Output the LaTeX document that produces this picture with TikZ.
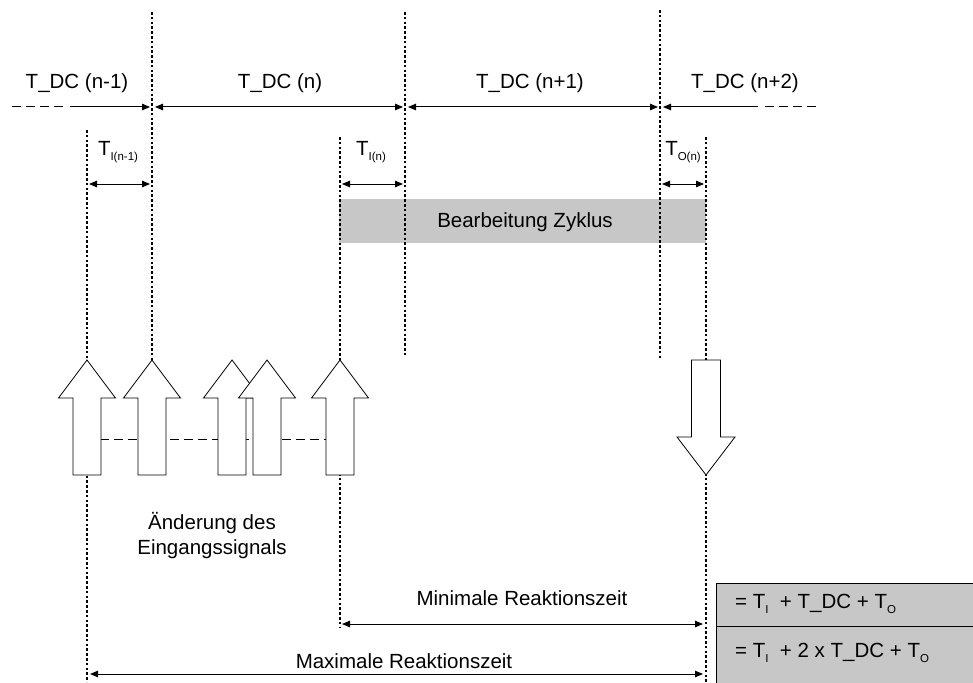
\documentclass[tikz,border=0pt]{standalone}
\usepackage{fontspec}
\setmainfont{Liberation Sans}
\usetikzlibrary{arrows.meta,positioning}
\newcommand{\lowsub}[1]{\raisebox{-5pt}{\fontsize{11.5}{11.5}\selectfont #1}}
\tikzset{
  txt/.style={font=\fontsize{20.5}{25}\selectfont,inner sep=0pt},
  gridline/.style={line width=1.6pt,dash pattern=on 2.6pt off 2.2pt},
  dimboth/.style={line width=1pt,{Triangle[length=8pt,width=6.5pt]}-{Triangle[length=8pt,width=6.5pt]}},
  dimright/.style={line width=1pt,-{Triangle[length=8pt,width=6.5pt]}},
  dimleft/.style={line width=1pt,{Triangle[length=8pt,width=6.5pt]}-},
  fadeout/.style={line width=1pt,dash pattern=on 9pt off 5pt},
  upblock/.pic={\draw[fill=white,line width=.8pt] (0,0) -- (28.5,38) -- (14,38) -- (14,115) -- (-14,115) -- (-14,38) -- (-28.5,38) -- cycle;},
  downblock/.pic={\draw[fill=white,line width=.8pt] (-14.5,0) -- (14.5,0) -- (14.5,77) -- (29,77) -- (0,115) -- (-29,77) -- (-14.5,77) -- cycle;}
}

\begin{document}
\begin{tikzpicture}[x=1pt,y=-1pt]
  \useasboundingbox (0,0) rectangle (973,682);
  \clip (0,0) rectangle (973,682);
  % processing bar
  \fill[black!22] (339,199) rectangle (706,243);
  \node[txt] (bearb) at (525,222) {Bearbeitung Zyklus};
  % cycle boundaries and input/output instants
  \coordinate (b1) at (152,12);   \coordinate (b1e) at (152,360);
  \coordinate (b2) at (405,12);   \coordinate (b2e) at (405,357);
  \coordinate (b3) at (660,10);   \coordinate (b3e) at (660,358);
  \coordinate (in1) at (87,130);  \coordinate (in1e) at (87,682);
  \coordinate (in2) at (340,137); \coordinate (in2e) at (340,628);
  \coordinate (out) at (706,137); \coordinate (oute) at (706,682);
  \foreach \a/\b in {b1/b1e,b2/b2e,b3/b3e,in1/in1e,in2/in2e,out/oute}
    \draw[gridline] (\a) -- (\b);
  % cycle lengths
  \coordinate (dcrow) at (0,107);
  \node[txt] (dc0) at (77,83) {T\_DC (n-1)};
  \node[txt] (dc1) at (280,83) {T\_DC (n)};
  \node[txt] (dc2) at (530,83) {T\_DC (n+1)};
  \node[txt] (dc3) at (745,83) {T\_DC (n+2)};
  \coordinate (dcstart) at (12,107);
  \coordinate (dcend) at (817,107);
  \draw[fadeout] (dcstart) -- ++(52,0);
  \draw[dimright] ([xshift=58pt]dcstart) -- ([xshift=-2pt]b1 |- dcrow);
  \draw[dimboth] ([xshift=3pt]b1 |- dcrow) -- ([xshift=-2pt]b2 |- dcrow);
  \draw[dimboth] ([xshift=3pt]b2 |- dcrow) -- ([xshift=-2pt]b3 |- dcrow);
  \draw[dimleft] ([xshift=3pt]b3 |- dcrow) -- ([xshift=-59pt]dcend);
  \draw[fadeout] ([xshift=-52pt]dcend) -- (dcend);
  % input and output times
  \coordinate (trow) at (0,184);
  \node[txt] (ti0) at (118,152) {T\lowsub{I(n-1)}};
  \node[txt] (ti1) at (371,152) {T\lowsub{I(n)}};
  \node[txt] (to1) at (683,152) {T\lowsub{O(n)}};
  \draw[dimboth] ([xshift=2pt]in1 |- trow) -- ([xshift=-2pt]b1 |- trow);
  \draw[dimboth] ([xshift=2pt]in2 |- trow) -- ([xshift=-2pt]b2 |- trow);
  \draw[dimboth] ([xshift=2pt]b3 |- trow) -- ([xshift=-2pt]out |- trow);
  % input signal changes
  \draw[fadeout] (100,439) -- (326,439);
  \foreach \x in {87,152,232,267,340}
    \pic at (\x,360) {upblock};
  \pic at (706,360) {downblock};
  \node[txt,align=center] (aend) at (212,536) {Änderung des\\Eingangssignals};
  % reaction times
  \node[txt] (minlbl) at (522,598) {Minimale Reaktionszeit};
  \node[txt] (maxlbl) at (404,661) {Maximale Reaktionszeit};
  \draw[dimboth] ([xshift=2pt]in2 |- 0,624) -- ([xshift=-3pt]out |- 0,624);
  \draw[dimboth] ([xshift=3pt]in1 |- 0,674) -- ([xshift=-3pt]out |- 0,674);
  % formulas
  \draw[fill=black!22,line width=1pt] (716,583) rectangle (990,700);
  \draw[line width=1pt] (716,626) -- (990,626);
  \node[txt,anchor=west] (fmin) at (735,604) {= T\lowsub{I}\ \ + T\_DC + T\lowsub{O}};
  \node[txt,anchor=west] (fmax) at (735,653) {= T\lowsub{I}\ \ + 2 x T\_DC + T\lowsub{O}};
\end{tikzpicture}
\end{document}
